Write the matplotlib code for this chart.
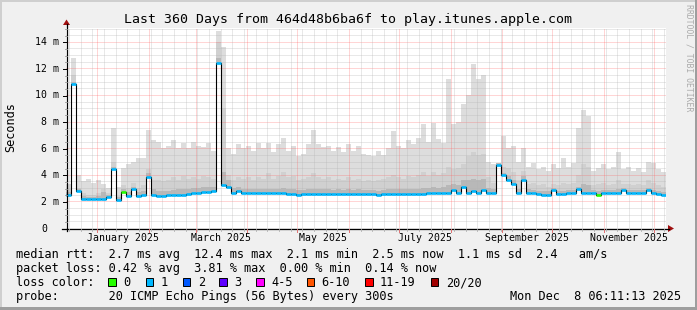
import numpy as np
import matplotlib
matplotlib.use('Agg')
import matplotlib.pyplot as plt
import matplotlib.dates as mdates
from matplotlib.patches import Rectangle, Polygon
from matplotlib.lines import Line2D
from datetime import datetime, timedelta

W, H = 697, 310
start = datetime(2024, 12, 13, 6, 11, 13)
end = datetime(2025, 12, 8, 6, 11, 13)
bin_days = 3

# median rtt per 3-day bin (ms)
median_ms = [
    2.5, 10.8, 2.8, 2.2, 2.15, 2.15, 2.15, 2.15, 2.3, 4.45,
    2.1, 2.7, 2.4, 2.9, 2.42, 2.45, 3.8, 2.5, 2.42, 2.42,
    2.45, 2.45, 2.5, 2.5, 2.55, 2.6, 2.65, 2.7, 2.7, 2.75,
    12.4, 3.2, 3.1, 2.65, 2.8, 2.6, 2.6, 2.6, 2.6, 2.6,
    2.6, 2.6, 2.6, 2.6, 2.58, 2.55, 2.5, 2.52, 2.55, 2.55,
    2.55, 2.55, 2.55, 2.55, 2.55, 2.55, 2.55, 2.55, 2.55, 2.55,
    2.55, 2.55, 2.45, 2.55, 2.55, 2.55, 2.55, 2.55, 2.55, 2.55,
    2.55, 2.55, 2.65, 2.65, 2.6, 2.6, 2.6, 2.85, 2.6, 3.1,
    2.6, 2.75, 2.6, 2.85, 2.6, 2.6, 4.75, 3.95, 3.6, 3.3,
    2.6, 3.6, 2.65, 2.6, 2.55, 2.5, 2.5, 2.85, 2.55, 2.55,
    2.6, 2.6, 2.9, 2.6, 2.6, 2.6, 2.5, 2.6, 2.6, 2.6,
    2.6, 2.85, 2.6, 2.6, 2.6, 2.6, 2.85, 2.6, 2.55, 2.5,
]
# highest ping (light smoke top)
smoke_max_ms = [
    3.3, 12.8, 4.0, 3.5, 3.7, 3.4, 3.6, 3.3, 3.0, 7.5,
    3.1, 4.5, 4.8, 5.0, 5.3, 5.3, 7.4, 6.6, 6.5, 6.0,
    6.2, 6.6, 6.0, 6.4, 6.0, 6.5, 6.2, 6.1, 6.4, 5.8,
    14.8, 13.6, 6.0, 5.6, 6.3, 6.0, 6.2, 5.8, 6.4, 6.0,
    6.4, 5.7, 6.3, 6.8, 5.8, 6.2, 5.4, 5.6, 6.3, 7.4,
    6.3, 6.1, 6.2, 5.8, 6.1, 5.7, 6.3, 5.8, 6.2, 5.6,
    5.5, 5.4, 5.8, 5.5, 6.0, 7.3, 6.2, 6.0, 6.6, 6.3,
    6.8, 7.8, 6.5, 7.9, 6.7, 6.4, 11.2, 7.8, 8.0, 9.3,
    10.0, 12.3, 11.2, 11.5, 5.0, 4.8, 4.6, 6.9, 6.0, 6.2,
    5.0, 6.0, 4.6, 4.9, 4.4, 4.6, 4.3, 4.8, 4.5, 5.3,
    4.6, 4.9, 7.5, 8.9, 8.4, 4.3, 4.5, 4.8, 4.4, 4.6,
    5.7, 4.4, 4.6, 4.3, 4.5, 4.2, 5.0, 4.9, 4.4, 4.2,
]
# upper-middle pings (medium smoke top)
smoke_mid_ms = [
    2.9, 11.5, 3.0, 2.6, 2.5, 2.5, 2.6, 2.9, 2.6, 5.0,
    2.4, 3.2, 3.0, 3.4, 3.0, 3.2, 4.4, 3.6, 3.6, 3.5,
    3.6, 3.8, 3.6, 3.9, 3.7, 3.8, 3.7, 3.9, 3.8, 3.7,
    14.0, 9.0, 4.0, 3.6, 3.8, 3.7, 3.8, 3.6, 3.8, 3.7,
    4.1, 3.7, 3.9, 4.2, 3.8, 3.9, 3.6, 3.7, 3.8, 4.1,
    3.8, 3.7, 3.8, 3.6, 3.7, 3.6, 3.8, 3.6, 3.7, 3.5,
    3.6, 3.5, 3.6, 3.7, 3.8, 4.0, 3.8, 3.7, 3.9, 3.8,
    4.0, 4.2, 3.9, 4.2, 4.0, 4.1, 4.6, 4.4, 4.5, 4.8,
    5.4, 5.7, 5.5, 5.6, 3.8, 3.4, 4.7, 4.6, 4.5, 4.2,
    3.6, 4.3, 3.3, 3.4, 3.2, 3.3, 3.1, 3.3, 3.2, 3.4,
    3.3, 3.4, 4.0, 4.8, 4.6, 3.2, 3.3, 3.4, 3.2, 3.3,
    3.6, 3.3, 3.3, 3.2, 3.3, 3.2, 3.6, 3.4, 3.2, 3.1,
]
# pings close to the median (dark smoke top)
smoke_dark_ms = [
    2.7, 11.0, 2.9, 2.4, 2.35, 2.35, 2.4, 2.7, 2.5, 4.6,
    2.3, 2.9, 2.7, 3.1, 2.7, 2.8, 4.1, 2.9, 2.8, 2.8,
    2.8, 2.85, 2.9, 2.9, 2.95, 3.0, 3.0, 3.05, 3.05, 3.1,
    12.8, 4.2, 3.6, 3.0, 3.1, 2.95, 2.95, 2.95, 2.95, 2.95,
    2.95, 2.9, 2.95, 3.0, 2.9, 2.9, 2.85, 2.85, 2.9, 2.95,
    2.9, 2.9, 2.9, 2.85, 2.9, 2.85, 2.9, 2.85, 2.9, 2.85,
    2.85, 2.85, 2.8, 2.85, 2.9, 2.95, 2.9, 2.9, 2.95, 2.9,
    2.95, 3.0, 3.0, 3.05, 3.0, 3.05, 3.2, 3.3, 3.2, 3.6,
    3.6, 3.7, 3.6, 3.7, 3.0, 2.9, 4.9, 4.1, 3.9, 3.6,
    2.9, 3.9, 2.9, 2.85, 2.8, 2.75, 2.75, 3.0, 2.8, 2.8,
    2.85, 2.85, 3.1, 3.3, 3.2, 2.85, 2.75, 2.85, 2.85, 2.85,
    2.9, 3.0, 2.85, 2.85, 2.85, 2.85, 3.0, 2.85, 2.8, 2.7,
]
# lost pings (out of 20) per bin
loss_pings = [
    1, 1, 1, 1, 1, 1, 1, 1, 1, 1, 1, 0, 1, 1, 1, 1, 1, 1, 1, 1,
    1, 1, 1, 1, 1, 1, 1, 1, 1, 1, 1, 1, 1, 1, 1, 1, 1, 1, 1, 1,
    1, 1, 1, 1, 1, 1, 1, 1, 1, 1, 1, 1, 1, 1, 1, 1, 1, 1, 1, 1,
    1, 1, 1, 1, 1, 1, 1, 1, 1, 1, 1, 1, 1, 1, 1, 1, 1, 1, 1, 1,
    1, 1, 1, 1, 1, 1, 1, 1, 1, 1, 1, 1, 1, 1, 1, 1, 1, 1, 1, 1,
    1, 1, 1, 1, 1, 1, 0, 1, 1, 1, 1, 1, 1, 1, 1, 1, 1, 1, 1, 1,
]
loss_labels = ['0', '1', '2', '3', '4-5', '6-10', '11-19', '20/20']
loss_colors = ['#26ff00', '#00b8ff', '#0059ff', '#5e00ff', '#ff00fe', '#ff5500', '#ff0000', '#a10000']
loss_upper = [0, 1, 2, 3, 5, 10, 19, 20]

y_ticks = [0, 2, 4, 6, 8, 10, 12, 14]
x_label_months = [(2025, 1), (2025, 3), (2025, 5), (2025, 7), (2025, 9), (2025, 11)]

stats_line = "median rtt:  2.7 ms avg  12.4 ms max  2.1 ms min  2.5 ms now  1.1 ms sd  2.4   am/s"
loss_line = "packet loss: 0.42 % avg  3.81 % max  0.00 % min  0.14 % now"
probe_line = "probe:       20 ICMP Echo Pings (56 Bytes) every 300s"
stamp = "Mon Dec  8 06:11:13 2025"
title = "Last 360 Days from 464d48b6ba6f to play.itunes.apple.com"

MONO = 'DejaVu Sans Mono'
FS = 8.6
FS_AX = 7.1


def loss_color(n):
    for up, c in zip(loss_upper, loss_colors):
        if n <= up:
            return c
    return loss_colors[-1]


def fx(x):
    return x / W


def fy(y):
    return 1 - y / H


fig = plt.figure(figsize=(W / 100, H / 100), dpi=100)
fig.patch.set_facecolor('#f0f0f0')

# shaded frame
fig.add_artist(Rectangle((0, fy(2)), 1, 2 / H, transform=fig.transFigure, color='#cfcfcf', lw=0))
fig.add_artist(Rectangle((0, 0), 2 / W, 1, transform=fig.transFigure, color='#cfcfcf', lw=0))
fig.add_artist(Rectangle((0, 0), 1, 3 / H, transform=fig.transFigure, color='#9e9e9e', lw=0))
fig.add_artist(Rectangle((1 - 2 / W, 0), 2 / W, 1, transform=fig.transFigure, color='#9e9e9e', lw=0))

PX_PER_MS = 13.3
ax = fig.add_axes([fx(66), fy(228), 600 / W, 200 / H])
ax.set_facecolor('white')
x0, x1 = mdates.date2num(start), mdates.date2num(end)
ax.set_xlim(x0, x1)
ax.set_ylim(0, 200 / PX_PER_MS)
for s in ax.spines.values():
    s.set_visible(False)
ax.set_xticks([])
ax.set_yticks([])

n = len(median_ms)
edges = mdates.date2num([start + timedelta(days=bin_days * i) for i in range(n + 1)])
med = np.array(median_ms)
ext = lambda a: np.append(np.array(a), a[-1])

ax.fill_between(edges, ext(median_ms), ext(smoke_max_ms), step='post', color='#dddddd', lw=0, zorder=1)
ax.fill_between(edges, ext(median_ms), ext(smoke_mid_ms), step='post', color='#d0d0d0', lw=0, zorder=1.1)
ax.fill_between(edges, ext(median_ms), ext(smoke_dark_ms), step='post', color='#b8b8b8', lw=0, zorder=1.2)

# grid
minor_c = (0.70, 0.70, 0.70, 0.6)
major_c = (1.0, 0.35, 0.35, 0.5)
dot = (0, (1, 1))
for k in range(1, 31):
    v = k * 0.5
    if v > 15.04:
        break
    if abs(v % 2) < 1e-9:
        ax.axhline(v, color=major_c, lw=0.72, ls=dot, zorder=2)
    else:
        ax.axhline(v, color=minor_c, lw=0.72, ls=dot, zorder=2)

month_starts = []
d = datetime(2025, 1, 1)
while d < end:
    month_starts.append(d)
    d = datetime(d.year + (d.month == 12), d.month % 12 + 1, 1)
week = datetime(2024, 12, 15)
while week < end:
    if week.day != 1:
        ax.axvline(mdates.date2num(week), color=minor_c, lw=0.72, ls=dot, zorder=2)
    week += timedelta(days=7)
for m in month_starts:
    ax.axvline(mdates.date2num(m), color=major_c, lw=0.72, ls=dot, zorder=2)

# median line
ax.step(edges, ext(median_ms), where='post', color='black', lw=0.8, zorder=3)
ax.hlines(med, edges[:-1], edges[1:], colors=[loss_color(v) for v in loss_pings],
          lw=1.9, zorder=4, capstyle='butt')

# axis lines and arrows
fig.add_artist(Line2D([fx(62), fx(669)], [fy(228.5), fy(228.5)], color='black', lw=0.9))
fig.add_artist(Line2D([fx(66.5), fx(66.5)], [fy(231), fy(24)], color='black', lw=0.9))
fig.add_artist(Polygon([(fx(668), fy(225)), (fx(668), fy(232)), (fx(674), fy(228.5))],
                       closed=True, transform=fig.transFigure, color='#a01010', lw=0))
fig.add_artist(Polygon([(fx(63), fy(25)), (fx(70), fy(25)), (fx(66.5), fy(19.5))],
                       closed=True, transform=fig.transFigure, color='#a01010', lw=0))

# y ticks
for k in range(0, 31):
    v = k * 0.5
    y = 228.5 - v * PX_PER_MS
    if y < 28:
        break
    if abs(v % 2) < 1e-9:
        fig.add_artist(Line2D([fx(63), fx(66.5)], [fy(y), fy(y)], color='black', lw=0.7))
    else:
        fig.add_artist(Line2D([fx(64.5), fx(66.5)], [fy(y), fy(y)], color='#999999', lw=0.6))
for v in y_ticks:
    y = 228.5 - v * PX_PER_MS
    if v == 0:
        fig.text(fx(47.5), fy(y), "0", ha='right', va='center', family=MONO, fontsize=FS_AX)
    else:
        fig.text(fx(59), fy(y), f"{v} m", ha='right', va='center', family=MONO, fontsize=FS_AX)

# x ticks
px_per_day = 600 / 360
def xpix(dt):
    return 66 + (mdates.date2num(dt) - x0) * px_per_day
week = datetime(2024, 12, 15)
while week < end:
    xp = xpix(week)
    fig.add_artist(Line2D([fx(xp), fx(xp)], [fy(229), fy(231)], color='#b0b0b0', lw=0.6))
    week += timedelta(days=7)
for m in month_starts:
    xp = xpix(m)
    fig.add_artist(Line2D([fx(xp), fx(xp)], [fy(229), fy(232)], color='#e07070', lw=0.7))
for (yy, mm) in x_label_months:
    ms = datetime(yy, mm, 1)
    nxt = datetime(yy + (mm == 12), mm % 12 + 1, 1)
    mid = ms + (nxt - ms) / 2
    fig.text(fx(xpix(mid)), fy(241), ms.strftime('%B %Y'), ha='center', va='baseline',
             family=MONO, fontsize=FS_AX)

# title, axis label, watermark
fig.text(fx(348), fy(23.5), title, ha='center', va='baseline', family=MONO, fontsize=9.5)
fig.text(fx(10.5), fy(127), "Seconds", rotation=90, ha='center', va='center', family=MONO, fontsize=FS)
fig.text(fx(688.5), fy(4), "RRDTOOL / TOBI OETIKER", rotation=270, ha='center', va='top',
         family=MONO, fontsize=5.9, color='#ababab')

# legend
fig.text(fx(16), fy(258), stats_line, ha='left', va='baseline', family=MONO, fontsize=FS)
fig.text(fx(16), fy(272), loss_line, ha='left', va='baseline', family=MONO, fontsize=FS)
fig.text(fx(16), fy(286), "loss color:", ha='left', va='baseline', family=MONO, fontsize=FS)
box_x = [108.3, 145.7, 182.7, 219.3, 256.0, 306.7, 365.0, 430.7]
for bx, lab, c in zip(box_x, loss_labels, loss_colors):
    fig.add_artist(Rectangle((fx(bx), fy(286)), 7.5 / W, 8.5 / H, transform=fig.transFigure,
                             facecolor=c, edgecolor='black', lw=0.7))
    fig.text(fx(bx + 15), fy(286), lab, ha='left', va='baseline', family=MONO, fontsize=FS)
fig.text(fx(16), fy(300), probe_line, ha='left', va='baseline', family=MONO, fontsize=FS)
fig.text(fx(681), fy(300), stamp, ha='right', va='baseline', family=MONO, fontsize=FS)

fig.savefig('out.png', dpi=100, facecolor=fig.get_facecolor())
